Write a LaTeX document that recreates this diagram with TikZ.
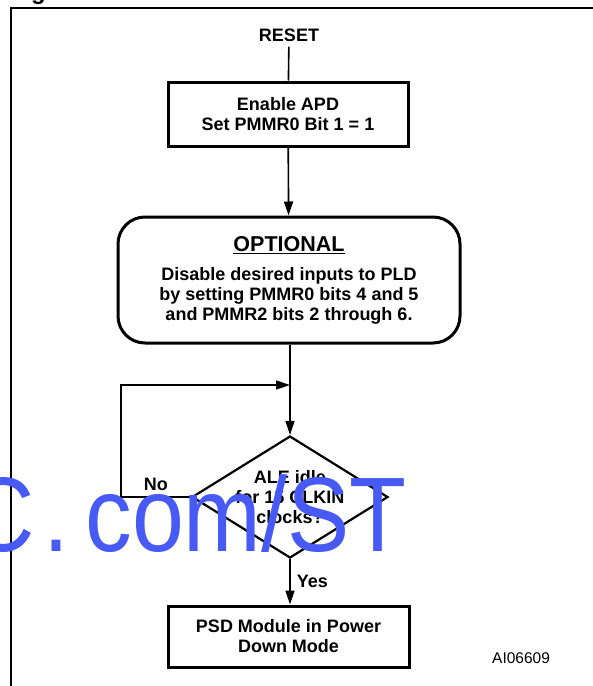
\documentclass[tikz,border=0pt]{standalone}
\usepackage{fontspec}
\setmainfont{Liberation Sans}
\usetikzlibrary{arrows.meta,positioning,shapes.geometric}
\definecolor{markblue}{RGB}{72,90,245}
\begin{document}
\begin{tikzpicture}[
    x=1pt, y=-1pt,
    txt/.style={font=\fontsize{18}{20}\selectfont\bfseries,align=center,inner sep=0pt},
    box/.style={txt,draw,line width=3pt},
    decide/.style={txt,draw,diamond,aspect=1.6,line width=2.2pt,minimum width=196pt,minimum height=122pt},
    arr/.style={-{Triangle[length=14pt,width=9pt]},line width=1.6pt},
    lbl/.style={txt,inner sep=6pt}
]
\useasboundingbox (0,0) rectangle (593,686);
% frame
\draw[line width=2.5pt] (11,686) -- (11,8) -- (593,8);
\node[anchor=base west,font=\fontsize{24}{24}\selectfont\bfseries,inner sep=0pt] (cap) at (31,-1) {g};
% flow
\node[txt,inner sep=5pt] (reset) at (289,35) {RESET};
\node[box,minimum width=240pt,minimum height=64pt] (apd) at (288,114) {Enable APD\\Set PMMR0 Bit 1 = 1};
\node[box,rounded corners=27pt,minimum width=342pt,minimum height=126pt] (optional) at (289,280)
    {{\fontsize{21.5}{24}\selectfont\underline{OPTIONAL}}\\[9pt]
     Disable desired inputs to PLD\\by setting PMMR0 bits 4 and 5\\and PMMR2 bits 2 through 6.};
\node[decide] (idle) at (290,497) {ALE idle\\for 15 CLKIN\\clocks?};
\node[box,minimum width=241pt,minimum height=61pt] (pdmode) at (288.5,636.5) {PSD Module in Power\\Down Mode};
\node[anchor=base west,font=\fontsize{15.5}{18}\selectfont,inner sep=0pt] (fig) at (492,663) {AI06609};
\coordinate (join) at (290,385);
\coordinate (lft) at (121,497);
\draw[line width=1.6pt] (reset) -- (apd);
\draw[arr] (apd) -- (optional);
\draw[arr] (optional.south -| idle.north) -- (idle.north);
\draw[arr] (idle.west) -- node[lbl,above] {No} (lft) |- (join);
\draw[arr] (idle.south) -- node[lbl,right] {Yes} (pdmode.north -| idle.south);
% watermark
\node[anchor=base east,xscale=0.88,font=\fontsize{106}{106}\selectfont,text=markblue,inner sep=0pt] (mark) at (407,551) {C\kern10.5pt.\kern18pt com/ST};
\end{tikzpicture}
\end{document}
